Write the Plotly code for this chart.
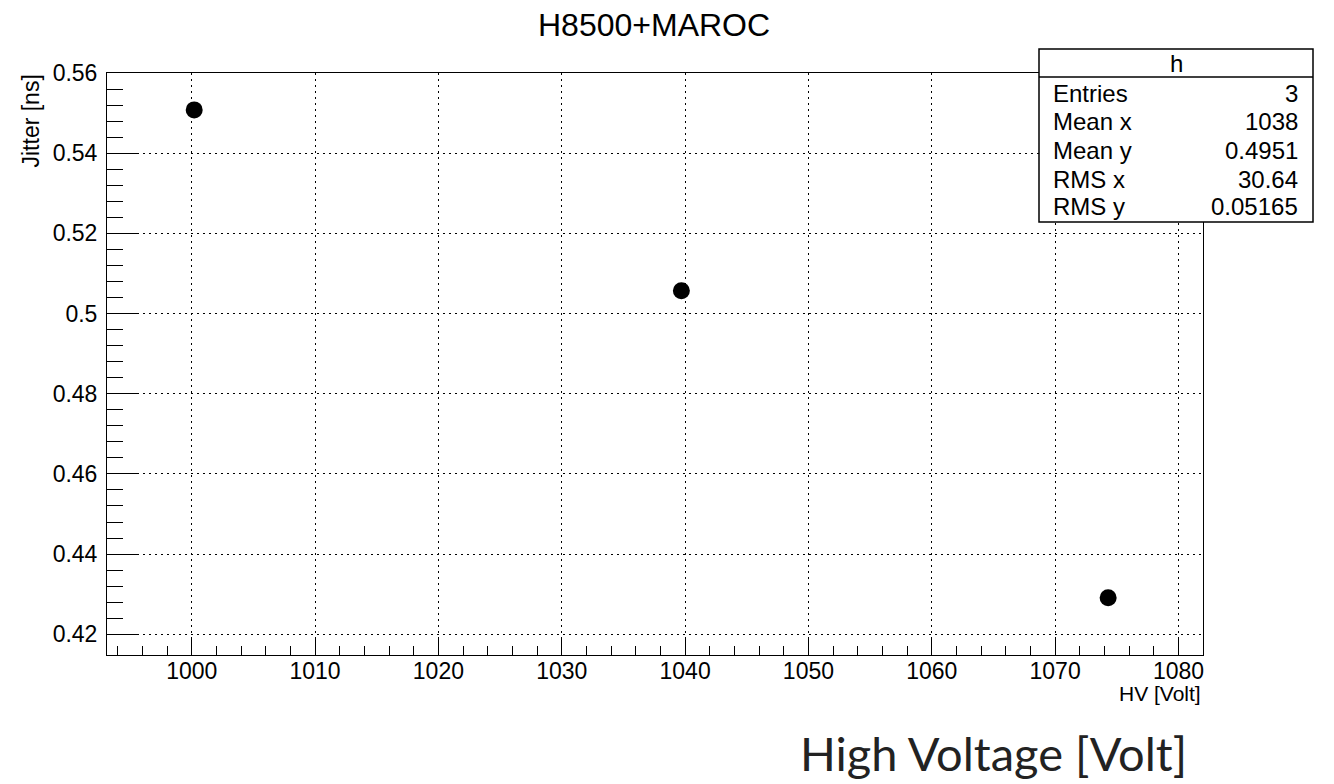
import plotly.graph_objects as go

# ---- data ----
hv_volt = [1000.2, 1039.7, 1074.3]
jitter_ns = [0.5508, 0.5057, 0.4291]

x_tick_vals = [1000, 1010, 1020, 1030, 1040, 1050, 1060, 1070, 1080]
x_tick_text = ["1000", "1010", "1020", "1030", "1040", "1050", "1060", "1070", "1080"]
y_tick_vals = [0.42, 0.44, 0.46, 0.48, 0.50, 0.52, 0.54, 0.56]
y_tick_text = ["0.42", "0.44", "0.46", "0.48", "0.5", "0.52", "0.54", "0.56"]
y_minor_vals = [round(0.42 + 0.004 * i, 3) for i in range(36)]

stats_labels = ["Entries", "Mean x", "Mean y", "RMS x", "RMS y"]
stats_values = ["3", "1038", "0.4951", "30.64", "0.05165"]

x_range = [993.13, 1081.99]
y_range = [0.41483, 0.56]

# ---- layout geometry (pixels) ----
W, H = 1334, 784
L, R, T, B = 107, 1203, 73, 655
pw, ph = R - L, B - T


def px(x):
    return (x - L) / pw


def py(y):
    return (B - y) / ph


FONT = "Liberation Sans, Arial, Helvetica, sans-serif"

fig = go.Figure()
fig.add_trace(go.Scatter(
    x=hv_volt, y=jitter_ns, mode="markers",
    marker=dict(size=17, color="black", symbol="circle", line=dict(width=0)),
    showlegend=False, hoverinfo="x+y",
))

axis_common = dict(
    showline=True, linecolor="black", linewidth=1, mirror=True,
    ticks="inside", tickcolor="black", tickwidth=1,
    showgrid=True, gridcolor="black", gridwidth=1, griddash="2px,4px",
    zeroline=False,
    tickfont=dict(family=FONT, size=23, color="black"),
)

fig.update_layout(
    width=W, height=H,
    margin=dict(l=L, r=W - R, t=T, b=H - B, pad=0),
    paper_bgcolor="white", plot_bgcolor="white",
    xaxis=dict(
        range=x_range, tickmode="array", tickvals=x_tick_vals, ticktext=x_tick_text,
        ticklen=18,
        minor=dict(ticks="inside", ticklen=9, tickcolor="black", tickwidth=1,
                   tick0=1000, dtick=2, showgrid=False),
        ticklabelstandoff=-5,
        **axis_common,
    ),
    yaxis=dict(
        range=y_range, tickmode="array", tickvals=y_tick_vals, ticktext=y_tick_text,
        ticklen=32,
        minor=dict(ticks="inside", ticklen=16, tickcolor="black", tickwidth=1,
                   tickmode="array", tickvals=y_minor_vals, showgrid=False),
        ticklabelstandoff=4,
        **axis_common,
    ),
    showlegend=False,
)

annotations = []
# main title
annotations.append(dict(
    text="H8500+MAROC", xref="paper", yref="paper", x=px(653.5), y=py(25),
    xanchor="center", yanchor="middle", showarrow=False,
    font=dict(family=FONT, size=32, color="black"),
))
# y axis title
annotations.append(dict(
    text="Jitter [ns]", xref="paper", yref="paper", x=px(30), y=1.0,
    xanchor="center", yanchor="top", textangle=-90, showarrow=False,
    font=dict(family=FONT, size=23, color="black"),
))
# x axis title
annotations.append(dict(
    text="HV [Volt]", xref="paper", yref="paper", x=1.0, y=py(693),
    xanchor="right", yanchor="middle", showarrow=False,
    font=dict(family=FONT, size=21, color="black"),
))
# big caption
annotations.append(dict(
    text="High Voltage [Volt]", xref="paper", yref="paper", x=px(1189), y=py(753),
    xanchor="right", yanchor="middle", showarrow=False,
    font=dict(family="Futura, 'Century Gothic', Lato, sans-serif", size=47, color="#222222"),
))

# stats box
bx0, bx1, by0, by1, bhead = 1039, 1313, 49, 222, 77
shapes = [
    dict(type="rect", xref="paper", yref="paper",
         x0=px(bx0), x1=px(bx1), y0=py(by1), y1=py(by0),
         line=dict(color="black", width=1.5), fillcolor="white", layer="above"),
    dict(type="line", xref="paper", yref="paper",
         x0=px(bx0), x1=px(bx1), y0=py(bhead), y1=py(bhead),
         line=dict(color="black", width=1.5), layer="above"),
]
annotations.append(dict(
    text="h", xref="paper", yref="paper", x=px((bx0 + bx1) / 2), y=py(63),
    xanchor="center", yanchor="middle", showarrow=False,
    font=dict(family=FONT, size=24, color="black"),
))
row_y = [93.5, 121.8, 150.2, 179.2, 206.8]
for lab, val, ry in zip(stats_labels, stats_values, row_y):
    annotations.append(dict(
        text=lab, xref="paper", yref="paper", x=px(1051), y=py(ry),
        xanchor="left", yanchor="middle", showarrow=False,
        font=dict(family=FONT, size=24, color="black"),
    ))
    annotations.append(dict(
        text=val, xref="paper", yref="paper", x=px(1300), y=py(ry),
        xanchor="right", yanchor="middle", showarrow=False,
        font=dict(family=FONT, size=24, color="black"),
    ))

fig.update_layout(annotations=annotations, shapes=shapes)
fig.write_html("out.html")
